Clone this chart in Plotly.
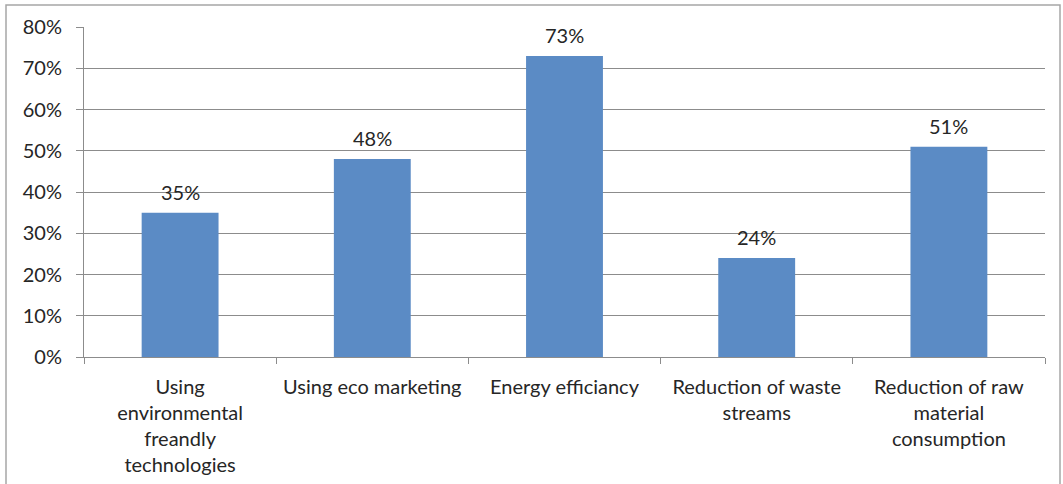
import plotly.graph_objects as go

categories = ["Using<br>environmental<br>freandly<br>technologies",
              "Using eco marketing",
              "Energy efficiancy",
              "Reduction of waste<br>streams",
              "Reduction of raw<br>material<br>consumption"]
values = [0.35, 0.48, 0.73, 0.24, 0.51]
labels = ["35%", "48%", "73%", "24%", "51%"]

FONT = "Lato, Carlito, Calibri, sans-serif"
TXT = "#262626"

fig = go.Figure(go.Bar(
    x=categories, y=values,
    marker=dict(color="#5b8bc5", line=dict(width=0)),
))
for c, v, t in zip(categories, values, labels):
    fig.add_annotation(x=c, y=v, text=t, showarrow=False, yanchor="bottom",
                       yshift=7, font=dict(family=FONT, size=20, color=TXT))

fig.update_layout(
    width=1063, height=484,
    margin=dict(l=84, r=18, t=27, b=127),
    paper_bgcolor="white", plot_bgcolor="white",
    bargap=0.6, showlegend=False,
    font=dict(family=FONT, size=20, color=TXT),
    shapes=[dict(type="rect", xref="paper", yref="paper",
                 x0=(6 - 84) / 961, x1=(1060 - 84) / 961,
                 y0=-0.6, y1=1 + 22 / 330,
                 line=dict(color="#a6a6a6", width=1.5), fillcolor="rgba(0,0,0,0)",
                 layer="below")],
)
fig.update_yaxes(range=[0, 0.8], dtick=0.1, tickformat=".0%",
                 showgrid=True, gridcolor="#8c8c8c", gridwidth=1,
                 showline=True, linecolor="#8c8c8c", linewidth=1,
                 ticks="outside", ticklen=7, tickcolor="#8c8c8c",
                 ticklabelstandoff=10, zeroline=False, automargin=False,
                 tickfont=dict(family=FONT, size=20, color=TXT))
fig.update_xaxes(showline=True, linecolor="#8c8c8c", linewidth=1,
                 ticks="outside", tickson="boundaries", ticklen=6, tickcolor="#8c8c8c",
                 showgrid=False, ticklabelstandoff=12, automargin=False,
                 tickfont=dict(family=FONT, size=20, color=TXT))

fig.write_html("out.html")
